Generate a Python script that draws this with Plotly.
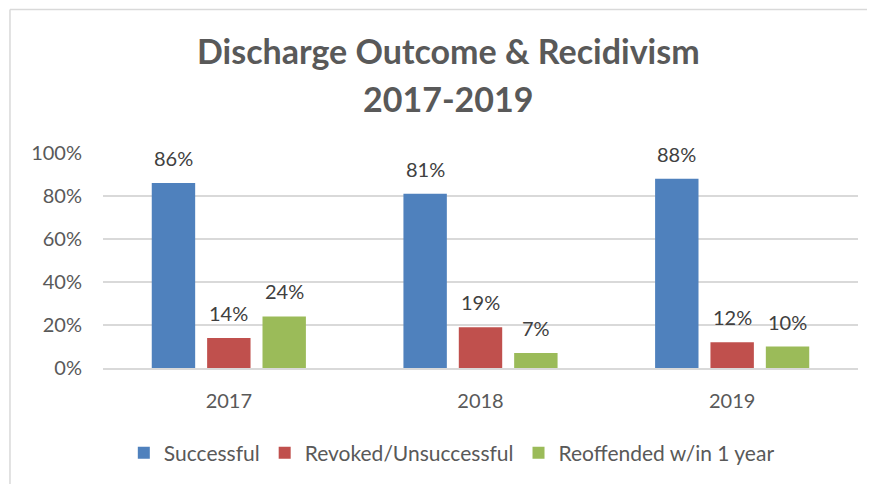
import plotly.graph_objects as go

years = ["2017", "2018", "2019"]
series_names = ["Successful", "Revoked/Unsuccessful", "Reoffended w/in 1 year"]
successful = [0.86, 0.81, 0.88]
revoked = [0.14, 0.19, 0.12]
reoffended = [0.24, 0.07, 0.10]
y_ticks = [0, 0.2, 0.4, 0.6, 0.8, 1.0]
y_tick_labels = ["0%", "20%", "40%", "60%", "80%", "100%"]

colors = ["#4F81BD", "#C0504D", "#9BBB59"]
font_family = "Lato, 'Open Sans', sans-serif"
bargap = 0.34

fig = go.Figure()

all_values = [successful, revoked, reoffended]
for name, vals, col in zip(series_names, all_values, colors):
    fig.add_trace(
        go.Bar(
            x=years,
            y=vals,
            name=name,
            marker=dict(color=col, line=dict(width=0)),
        )
    )

# data labels above each bar
slot = (1 - bargap) / 3
annotations = []
for j, vals in enumerate(all_values):
    for i, v in enumerate(vals):
        annotations.append(
            dict(
                x=i + (j - 1) * slot,
                y=v,
                xref="x",
                yref="y",
                text=f"{round(v * 100)}%",
                showarrow=False,
                yanchor="bottom",
                yshift=11,
                font=dict(family=font_family, size=20, color="#404040"),
            )
        )

# two-line title
title_font = dict(family=font_family, size=34, color="#595959", weight="bold")
annotations.append(dict(x=0.457, y=1.477, xref="paper", yref="paper",
                        text="<b>Discharge Outcome & Recidivism</b>",
                        showarrow=False, font=title_font,
                        xanchor="center", yanchor="middle"))
annotations.append(dict(x=0.457, y=1.255, xref="paper", yref="paper",
                        text="<b>2017-2019</b>",
                        showarrow=False, font=title_font,
                        xanchor="center", yanchor="middle"))

# page body has an 8px margin, so the figure is 8px smaller each way
fig.update_layout(
    width=867,
    height=476,
    margin=dict(l=95, r=17, t=145, b=115),
    paper_bgcolor="white",
    plot_bgcolor="white",
    barmode="group",
    bargap=bargap,
    bargroupgap=0.216,
    font=dict(family=font_family, size=20, color="#595959"),
    annotations=annotations,
    showlegend=True,
    legend=dict(
        orientation="h",
        x=0.462,
        xanchor="center",
        y=-0.389,
        yanchor="middle",
        font=dict(family=font_family, size=21, color="#595959"),
        itemwidth=30,
        bgcolor="rgba(0,0,0,0)",
    ),
    shapes=[
        dict(type="line", xref="paper", yref="paper",
             x0=-0.1232, x1=1.03, y0=1.667, y1=1.667,
             line=dict(color="#D9D9D9", width=1.5)),
        dict(type="line", xref="paper", yref="paper",
             x0=-0.1232, x1=-0.1232, y0=1.667, y1=-0.6,
             line=dict(color="#D9D9D9", width=1.5)),
    ],
)

fig.update_xaxes(
    showgrid=False,
    showline=True,
    linecolor="#D9D9D9",
    linewidth=1.5,
    ticks="",
    ticklabelstandoff=14,
    tickfont=dict(family=font_family, size=20, color="#595959"),
)

fig.update_yaxes(
    range=[0, 1.0],
    tickvals=y_ticks,
    ticktext=y_tick_labels,
    showgrid=True,
    gridcolor="#D9D9D9",
    gridwidth=1.5,
    zeroline=False,
    showline=False,
    ticks="",
    ticklabelstandoff=20,
    tickfont=dict(family=font_family, size=20, color="#595959"),
)

fig.write_html("out.html")
